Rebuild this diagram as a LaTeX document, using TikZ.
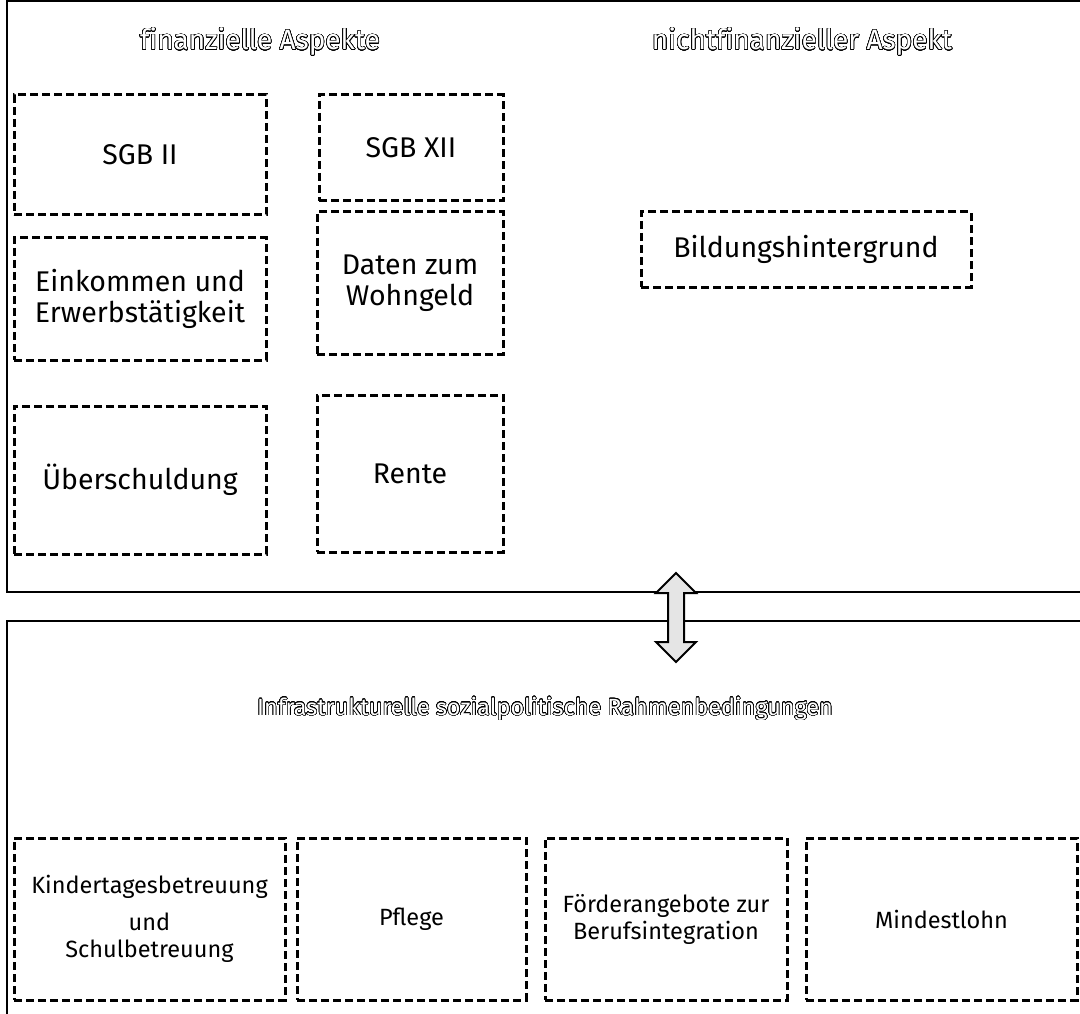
\documentclass[tikz,border=0pt]{standalone}
\usepackage{fontspec}
\setmainfont{Fira Sans}
\newfontfamily\titelschrift[Ligatures=NoCommon]{Fira Sans}
\usepackage{contour}
\contourlength{0.6pt}
\contournumber{32}
\usetikzlibrary{positioning}

\newcommand{\hohl}[1]{\contour{black}{\textcolor{white}{#1}}}

\tikzset{
  kasten/.style={draw, dashed, line width=3pt, dash pattern=on 8pt off 4pt,
    align=center, inner sep=0pt, font=\fontsize{28.5}{31}\selectfont},
  unten/.style={kasten, font=\fontsize{23.5}{27}\selectfont},
  rahmen/.style={draw, line width=2.6pt},
  titel/.style={font=\titelschrift\fontsize{28}{32}\selectfont}
}

\begin{document}
\begin{tikzpicture}[x=1pt,y=-1pt]
\useasboundingbox (0,0) rectangle (1080,1014);

% die beiden Rahmen
\path[rahmen] (1090,1) -- (7,1) -- (7,592) -- (1090,592);
\path[rahmen] (1090,621) -- (7,621) -- (7,1030);

\node[titel] (fin) at (260,42) {\hohl{f\kern0pt inanzielle Aspekte}};
\node[titel] (nichtfin) at (802,42) {\hohl{nichtf\kern0pt inanzieller Aspekt}};

% finanzielle Aspekte
\node[kasten, minimum width=252pt, minimum height=120pt] (sgbzwei) at (140,155) {SGB II};
\node[kasten, minimum width=252pt, minimum height=122pt] (einkommen) at (140,299)
 {Einkommen und\\Erwerbstätigkeit};
\node[kasten, minimum width=252pt, minimum height=148pt] (schulden) at (140,480) {Überschuldung};

\node[kasten, minimum width=184pt, minimum height=106pt] (sgbzwoelf) at (411,148) {SGB XII};
\node[kasten, minimum width=186pt, minimum height=142pt] (wohngeld) at (410,283)
 {Daten zum\\Wohngeld};
\node[kasten, minimum width=186pt, minimum height=157pt] (rente) at (410,473.5) {Rente};

% nichtfinanzieller Aspekt
\node[kasten, minimum width=330pt, minimum height=75pt] (bildung) at (806,249.5) {Bildungshintergrund};

% Doppelpfeil zwischen den Rahmen
\draw[line width=2pt, fill=black!10, line join=miter]
 (676,573) -- (696,593) -- (684,593) -- (684,642) -- (696,642) -- (676,662)
 -- (656,642) -- (668,642) -- (668,593) -- (656,593) -- cycle;

\node[titel, font=\fontsize{23.4}{27}\selectfont] (infra) at (545,709)
 {\hohl{Infrastrukturelle sozialpolitische Rahmenbedingungen}};

% Rahmenbedingungen
\node[unten, minimum width=271pt, minimum height=162pt] (kita) at (149.5,919)
 {Kindertagesbetreuung\\[10pt]und\\Schulbetreuung};
\node[unten, minimum width=229pt, minimum height=162pt] (pflege) at (411.5,919) {Pflege};
\node[unten, minimum width=242pt, minimum height=162pt] (foerder) at (666,919)
 {Förderangebote zur\\Berufsintegration};
\node[unten, minimum width=271pt, minimum height=162pt] (mindest) at (941.5,919) {Mindestlohn};
\end{tikzpicture}
\end{document}
